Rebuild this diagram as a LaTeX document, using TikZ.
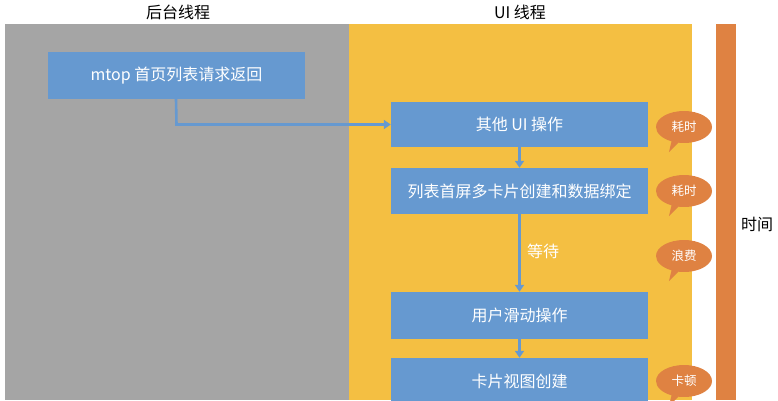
\documentclass[tikz,border=0pt]{standalone}
\usepackage{fontspec}
\setmainfont{Noto Sans CJK SC}
\usetikzlibrary{arrows.meta,shapes.callouts,positioning}
\definecolor{pgray}{HTML}{A5A5A5}
\definecolor{pyellow}{HTML}{F4BF42}
\definecolor{pblue}{HTML}{6699D0}
\definecolor{porange}{HTML}{DF8242}
\tikzset{
  box/.style={fill=pblue, draw=none, text=white, font=\fontsize{16}{19}\selectfont, inner sep=0pt},
  flow/.style={draw=pblue, line width=2.6pt, -{Triangle[length=7pt,width=9pt]}},
  bubble/.style={ellipse callout, fill=porange, draw=none, text=white, minimum width=56pt, minimum height=32pt, inner sep=0pt, font=\fontsize{12.5}{14}\selectfont, callout relative pointer={(-6pt,-10pt)}},
  title/.style={font=\fontsize{16}{19}\selectfont, text=black}
}
\begin{document}
\begin{tikzpicture}[x=1pt,y=-1pt]
\useasboundingbox (0,0) rectangle (778,400);
\clip (0,0) rectangle (778,400);
\fill[pgray] (5,24) rectangle (349,400);
\fill[pyellow] (349,24) rectangle (692,400);
\fill[porange] (716,24) rectangle (736,400);
\node[title] (t1) at (178,12) {后台线程};
\node[title] (t2) at (520,12) {UI 线程};
\node[title] (t3) at (757,224) {时间};
\node[box, minimum width=257pt, minimum height=47pt] (m) at (176.5,75.5) {mtop 首页列表请求返回};
\node[box, minimum width=257pt, minimum height=45pt] (b1) at (519.5,124.5) {其他 UI 操作};
\node[box, minimum width=257pt, minimum height=46pt] (b2) at (519.5,191) {列表首屏多卡片创建和数据绑定};
\node[box, minimum width=257pt, minimum height=47pt] (b3) at (519.5,315.5) {用户滑动操作};
\node[box, minimum width=257pt, minimum height=47pt] (b4) at (519.5,381.5) {卡片视图创建};
\coordinate (bend) at (m.south |- b1.west);
\draw[flow] ([xshift=-0.5pt]m.south) -- (bend) -- (b1.west);
\draw[flow] (b1.south) -- (b2.north);
\draw[flow] (b2.south) -- node[right, pos=0.5, text=white, font=\fontsize{16}{19}\selectfont, xshift=3pt, yshift=2pt] (w) {等待} (b3.north);
\draw[flow] (b3.south) -- (b4.north);
\node[bubble] (c1) at (684,127) {耗时};
\node[bubble] (c2) at (684,191) {耗时};
\node[bubble] (c3) at (684,256) {浪费};
\node[bubble] (c4) at (684,381) {卡顿};
\end{tikzpicture}
\end{document}
